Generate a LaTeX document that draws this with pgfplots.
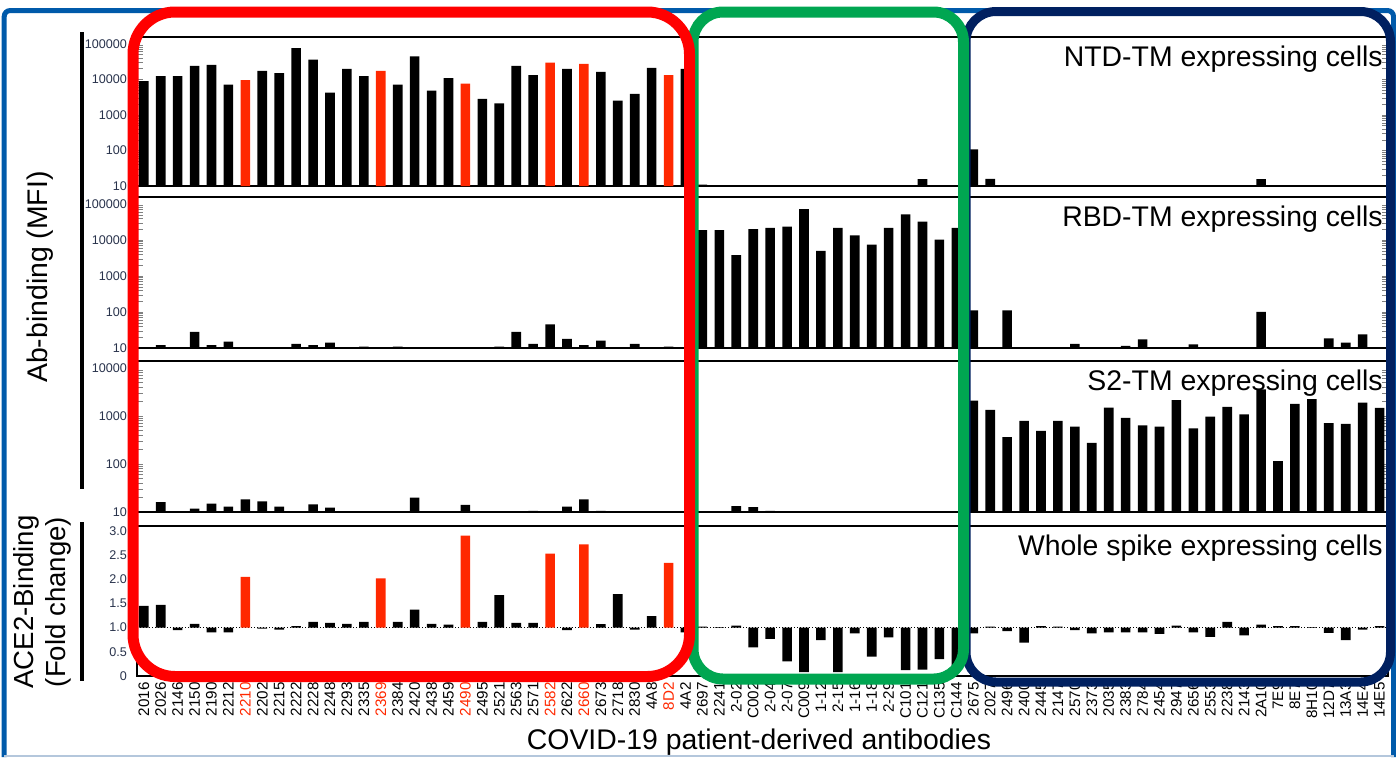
\documentclass[border=0pt]{standalone}
\usepackage{fontspec}
\setmainfont{Liberation Sans}
\usepackage{pgfplots}
\usepackage{pgfplotstable}
\pgfplotsset{compat=1.18}
\definecolor{redbar}{RGB}{255,40,0}
\definecolor{boxred}{RGB}{255,0,0}
\definecolor{boxgreen}{RGB}{0,166,81}
\definecolor{boxnavy}{RGB}{0,32,96}
\definecolor{framecol}{RGB}{0,90,170}
\definecolor{framelight}{RGB}{180,199,220}
\definecolor{ticklab}{RGB}{40,50,75}
\newcommand{\lblfont}{\fontsize{14.2}{17}\selectfont}

% ---------- data (index = antibody position, value) ----------
\pgfplotstableread[row sep=\\]{
x y\\
0 8900\\ 1 12300\\ 2 12300\\ 3 24000\\ 4 25700\\ 5 7100\\ 7 17400\\ 8 14900\\ 9 76000\\ 10 36000\\
11 4200\\ 12 19800\\ 13 12300\\ 15 7100\\ 16 44000\\ 17 4800\\ 18 10800\\ 20 2800\\ 21 2100\\
22 24000\\ 23 13200\\ 25 19800\\ 27 16300\\ 28 2500\\ 29 3900\\ 30 21000\\ 32 19800\\
33 11\\ 34 10\\ 35 10\\ 36 10\\ 37 10\\ 38 10\\ 39 10\\ 40 10\\ 41 10\\ 42 10\\ 43 10\\ 44 10.5\\
45 10\\ 46 15.5\\ 47 10\\ 48 10\\ 49 108\\ 50 16\\ 51 10\\ 52 10\\ 53 10\\ 54 10\\ 55 10\\ 56 10\\
57 10\\ 58 10\\ 59 10\\ 60 10\\ 61 10\\ 62 10\\ 63 10\\ 64 10.5\\ 65 10\\ 66 15.5\\ 67 10\\ 68 10.5\\
69 10\\ 70 10\\ 71 10\\ 72 10\\ 73 10\\
}\ntdblack
\pgfplotstableread[row sep=\\]{
x y\\
6 9500\\ 14 17400\\ 19 7600\\ 24 29700\\ 26 27300\\ 31 13200\\
}\ntdred
\pgfplotstableread[row sep=\\]{
x y\\
0 10\\ 1 12\\ 2 10\\ 3 28\\ 4 12\\ 5 15\\ 6 10\\ 7 10\\ 8 10\\ 9 13\\ 10 12\\ 11 14\\ 12 10\\
13 11\\ 14 10\\ 15 11\\ 16 10\\ 17 10\\ 18 10\\ 19 10\\ 20 10\\ 21 11\\ 22 28\\ 23 13\\ 24 45\\
25 18\\ 26 12\\ 27 16\\ 28 10\\ 29 13\\ 30 10\\ 31 11\\ 32 10\\
33 18600\\ 34 18600\\ 35 3800\\ 36 19800\\ 37 21500\\ 38 23300\\ 39 71000\\ 40 5000\\ 41 21500\\
42 13400\\ 43 7400\\ 44 21500\\ 45 51000\\ 46 32000\\ 47 10200\\ 48 21500\\
49 110\\ 50 10\\ 51 110\\ 52 10\\ 53 10\\ 54 10\\ 55 13\\ 56 10\\ 57 10\\ 58 11.5\\ 59 17.5\\
60 10\\ 61 10\\ 62 12.6\\ 63 10\\ 64 10\\ 65 10\\ 66 100\\ 67 10\\ 68 10\\ 69 10\\ 70 18.6\\
71 14\\ 72 24\\ 73 10\\
}\rbd
\pgfplotstableread[row sep=\\]{
x y\\
0 10\\ 1 16\\ 2 10\\ 3 11.7\\ 4 15\\ 5 13\\ 6 18.4\\ 7 16.7\\ 8 13\\ 9 10\\ 10 14.5\\ 11 12.4\\
12 10\\ 13 10\\ 14 10\\ 15 10\\ 16 20\\ 17 10\\ 18 10\\ 19 14\\ 20 10\\ 21 10\\ 22 10\\ 23 10.5\\
24 10\\ 25 13\\ 26 18.4\\ 27 10.6\\ 28 10\\ 29 10\\ 30 10\\ 31 10\\ 32 10\\
33 10\\ 34 10\\ 35 13.3\\ 36 12.7\\ 37 10.5\\ 38 10\\ 39 10\\ 40 10\\ 41 10\\ 42 10\\ 43 10\\
44 10\\ 45 10\\ 46 10\\ 47 10\\ 48 10\\
49 2100\\ 50 1350\\ 51 365\\ 52 790\\ 53 490\\ 54 790\\ 55 600\\ 56 277\\ 57 1490\\ 58 920\\
59 640\\ 60 600\\ 61 2150\\ 62 550\\ 63 970\\ 64 1560\\ 65 1080\\ 66 3600\\ 67 115\\ 68 1800\\
69 2240\\ 70 710\\ 71 690\\ 72 1900\\ 73 1470\\
}\stwo
\pgfplotstableread[row sep=\\]{
x y\\
0 1.45\\ 1 1.47\\ 2 0.95\\ 3 1.08\\ 4 0.90\\ 5 0.90\\ 7 0.98\\ 8 0.96\\ 9 1.03\\ 10 1.12\\
11 1.10\\ 12 1.08\\ 13 1.12\\ 15 1.12\\ 16 1.37\\ 17 1.08\\ 18 1.06\\ 20 1.12\\ 21 1.67\\
22 1.10\\ 23 1.10\\ 25 0.95\\ 27 1.07\\ 28 1.69\\ 29 0.96\\ 30 1.24\\ 32 0.90\\
33 1.02\\ 34 1.01\\ 35 1.04\\ 36 0.59\\ 37 0.77\\ 38 0.30\\ 39 0.08\\ 40 0.74\\ 41 0.08\\
42 0.88\\ 43 0.40\\ 44 0.80\\ 45 0.12\\ 46 0.13\\ 47 0.35\\ 48 0.19\\
49 0.88\\ 50 1.02\\ 51 0.93\\ 52 0.69\\ 53 1.03\\ 54 1.02\\ 55 0.95\\ 56 0.88\\ 57 0.90\\
58 0.90\\ 59 0.90\\ 60 0.87\\ 61 1.04\\ 62 0.90\\ 63 0.81\\ 64 1.12\\ 65 0.84\\ 66 1.06\\
67 1.03\\ 68 1.03\\ 69 1.01\\ 70 0.89\\ 71 0.74\\ 72 0.96\\ 73 1.03\\
}\aceblack
\pgfplotstableread[row sep=\\]{
x y\\
6 2.05\\ 14 2.02\\ 19 2.90\\ 24 2.53\\ 26 2.72\\ 31 2.34\\
}\acered

\pgfkeys{/pgf/number format/assume math mode=true}
\pgfkeys{/pgf/number format/1000 sep={}}
\pgfplotsset{
  panel/.style={
    anchor=north west,
    scale only axis, width=625.5pt,
    xmin=-0.4, xmax=73.5,
    ybar, bar width=4.8pt,
    xtick=\empty,
    axis line style={line width=1.1pt},
    major tick length=0pt,
    yticklabel style={font=\fontsize{6.3}{7}\selectfont, text=ticklab, anchor=east, xshift=-1.5pt},
  },
}
\tikzset{
  blk/.style={fill=black, draw=none},
  rdb/.style={fill=redbar, draw=none},
  ttl/.style={anchor=north east, inner sep=0pt, font=\lblfont, xshift=-2.5pt, yshift=-4.5pt},
}

\begin{document}
\begin{tikzpicture}
\begin{scope}[x=0.5pt,y=-0.5pt]
\path[use as bounding box] (0,0) rectangle (1396,757);
% outer frame (drawn first, under everything)
\draw[framecol, line width=2.5pt, rounded corners=3pt] (4.2,757) -- (4.2,10.5) -- (1393.5,10.5) -- (1393.5,757);
\draw[framelight, line width=1pt] (4.2,755.5) -- (1393.5,755.5);
\end{scope}

% NTD-TM
\begin{axis}[panel, ymode=log, log origin=infty, ymin=10, ymax=155000,
  log ticks with fixed point,
  at={(68.5pt,-18.5pt)}, height=74.5pt,
  ytick={10,100,1000,10000,100000}]
\addplot[blk, bar shift=0pt] table[x=x,y=y] {\ntdblack};
\addplot[rdb, bar shift=0pt] table[x=x,y=y] {\ntdred};
\node[ttl] at (rel axis cs:1,1) {NTD-TM expressing cells};
\end{axis}

% RBD-TM
\begin{axis}[panel, ymode=log, log origin=infty, ymin=10, ymax=155000,
  log ticks with fixed point,
  at={(68.5pt,-98.5pt)}, height=75.5pt,
  ytick={10,100,1000,10000,100000}]
\addplot[blk, bar shift=0pt] table[x=x,y=y] {\rbd};
\node[ttl] at (rel axis cs:1,1) {RBD-TM expressing cells};
\end{axis}

% S2-TM
\begin{axis}[panel, ymode=log, log origin=infty, ymin=10, ymax=14000,
  log ticks with fixed point,
  at={(68.5pt,-180.5pt)}, height=75.5pt,
  ytick={10,100,1000,10000}]
\addplot[blk, bar shift=0pt] table[x=x,y=y] {\stwo};
\node[ttl] at (rel axis cs:1,1) {S2-TM expressing cells};
\end{axis}

% ACE2 binding (bars drawn from fold change 1.0)
\begin{axis}[panel, at={(68.5pt,-263pt)}, height=75pt,
  y coord trafo/.code={\pgfmathparse{#1-1}},
  y coord inv trafo/.code={\pgfmathparse{#1+1}},
  ymin=0, ymax=3.1,
  ytick={0,0.5,1,1.5,2,2.5,3},
  yticklabels={0,0.5,1.0,1.5,2.0,2.5,3.0},
  xtick={0,...,73},
  xticklabels={2016,2026,2146,2150,2190,2212,\textcolor{redbar}{2210},2202,2215,2222,2228,2248,2293,2335,\textcolor{redbar}{2369},2384,2420,2438,2459,\textcolor{redbar}{2490},2495,2521,2563,2571,\textcolor{redbar}{2582},2622,\textcolor{redbar}{2660},2673,2718,2830,4A8,\textcolor{redbar}{8D2},4A2,2697,2241,2-02,C002,2-04,2-07,C009,1-12,2-15,1-16,1-18,2-29,C101,C121,C135,C144,2675,2027,2496,2400,2445,2147,2570,2373,2035,2383,2784,2454,2947,2656,2553,2238,2143,2A10,7E9,8E7,8H10,12D7,13A3,14E4,14E5},
  xticklabel style={rotate=90, anchor=east, inner sep=0pt, font=\fontsize{7.6}{8}\selectfont},
  xticklabel shift=3pt]
\draw[densely dotted, line width=0.5pt] (rel axis cs:0,0.3226) -- (rel axis cs:1,0.3226);
\addplot[blk, bar shift=0pt] table[x=x,y=y] {\aceblack};
\addplot[rdb, bar shift=0pt] table[x=x,y=y] {\acered};
\node[ttl] at (rel axis cs:1,1) {Whole spike expressing cells};
\end{axis}

\begin{scope}[x=0.5pt,y=-0.5pt]
% group boxes
\draw[boxnavy, line width=4.5pt, rounded corners=15pt] (966,11.5) rectangle (1390.5,682);
\draw[boxgreen, line width=5.5pt, rounded corners=15pt] (693,12) rectangle (963.5,679);
\draw[boxred, line width=5.5pt, rounded corners=21pt] (133,12) rectangle (689.5,676.5);
% brackets
\draw[line width=1.6pt] (82,32) -- (82,489);
\draw[line width=1.6pt] (82,522) -- (82,681);
% labels
\node[rotate=90, font=\lblfont, inner sep=0pt] at (40,277) {Ab-binding (MFI)};
\node[rotate=90, font=\fontsize{13.8}{16}\selectfont, inner sep=0pt] at (26,602) {ACE2-Binding};
\node[rotate=90, font=\fontsize{13.8}{16}\selectfont, inner sep=0pt] at (58,602) {(Fold change)};
\node[font=\lblfont, inner sep=0pt] at (759,742) {COVID-19 patient-derived antibodies};
\end{scope}
\end{tikzpicture}
\end{document}
